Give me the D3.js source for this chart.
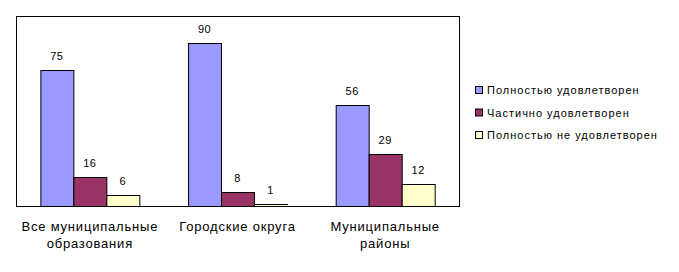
<!DOCTYPE html>
<html>
<head>
<meta charset="utf-8">
<script src="https://cdn.jsdelivr.net/npm/d3@7"></script>
<style>
  body { margin: 0; background: #fff; }
  text { font-family: Arial, "Liberation Sans", sans-serif; font-size: 11px; fill: #000; }
  .cat { font-size: 13px; letter-spacing: 0.8px; }
  .leg { font-size: 11px; letter-spacing: 1px; }
  .val { font-size: 11px; letter-spacing: 0.5px; }
</style>
</head>
<body>
<svg id="chart"></svg>
<script>
// categories and series
const categories = [["Все муниципальные", "образования"], ["Городские округа"], ["Муниципальные", "районы"]];
const seriesNames = ["Полностью удовлетворен", "Частично удовлетворен", "Полностью не удовлетворен"];
const full = [75, 90, 56];
const partial = [16, 8, 29];
const none = [6, 1, 12];
const colors = ["#9999FF", "#993366", "#FFFFCC"];

const width = 679, height = 272;
const plot = {left: 16, top: 16, right: 459, bottom: 206};

const svg = d3.select("#chart").attr("width", width).attr("height", height);

const series = [full, partial, none];
const rows = categories.map((c, i) => ({cat: i, vals: series.map(s => s[i])}));

const x0 = d3.scaleBand()
  .domain(d3.range(categories.length))
  .range([plot.left, plot.right])
  .paddingInner(0.33)
  .paddingOuter(0.165);
// bars fill band fully, 3 per group
const x1 = d3.scaleBand().domain(d3.range(series.length)).range([0, x0.bandwidth()]);

const y = d3.scaleLinear().domain([0, 105]).range([plot.bottom, plot.top]);

// plot frame
svg.append("rect")
  .attr("x", plot.left + 0.5).attr("y", plot.top + 0.5)
  .attr("width", plot.right - plot.left).attr("height", plot.bottom - plot.top)
  .attr("fill", "#fff").attr("stroke", "#000").attr("stroke-width", 1);

const groups = svg.append("g").selectAll("g")
  .data(rows)
  .join("g")
  .attr("transform", d => `translate(${x0(d.cat)},0)`);

groups.selectAll("rect")
  .data(d => d.vals.map((v, j) => ({v, j})))
  .join("rect")
  .attr("x", d => Math.round(x1(d.j)) + 0.5)
  .attr("y", d => Math.round(y(d.v)) + 0.5)
  .attr("width", x1.bandwidth())
  .attr("height", d => Math.round(y(0)) - Math.round(y(d.v)))
  .attr("fill", d => colors[d.j])
  .attr("stroke", "#000").attr("stroke-width", 1);

groups.selectAll("text.val")
  .data(d => d.vals.map((v, j) => ({v, j})))
  .join("text")
  .attr("class", "val")
  .attr("x", d => x1(d.j) + x1.bandwidth() / 2)
  .attr("y", d => y(d.v) - 10)
  .attr("text-anchor", "middle")
  .text(d => d.v);

// category axis labels
const xAxis = svg.append("g");
xAxis.selectAll("text")
  .data(categories)
  .join("text")
  .attr("class", "cat")
  .attr("x", (d, i) => x0(i) + x0.bandwidth() / 2)
  .attr("y", 231)
  .attr("text-anchor", "middle")
  .selectAll("tspan")
  .data(d => d)
  .join("tspan")
  .attr("x", function() { return d3.select(this.parentNode).attr("x"); })
  .attr("dy", (d, i) => i === 0 ? 0 : 17)
  .text(d => d);

// legend
const legend = svg.append("g").attr("transform", "translate(475,86)");
const li = legend.selectAll("g")
  .data(seriesNames)
  .join("g")
  .attr("transform", (d, i) => `translate(0,${i * 22.5})`);
li.append("rect")
  .attr("x", 0.5).attr("y", 0.5).attr("width", 7).attr("height", 7)
  .attr("fill", (d, i) => colors[i]).attr("stroke", "#000");
li.append("text")
  .attr("class", "leg")
  .attr("x", 12).attr("y", 8)
  .text(d => d);
</script>
</body>
</html>
